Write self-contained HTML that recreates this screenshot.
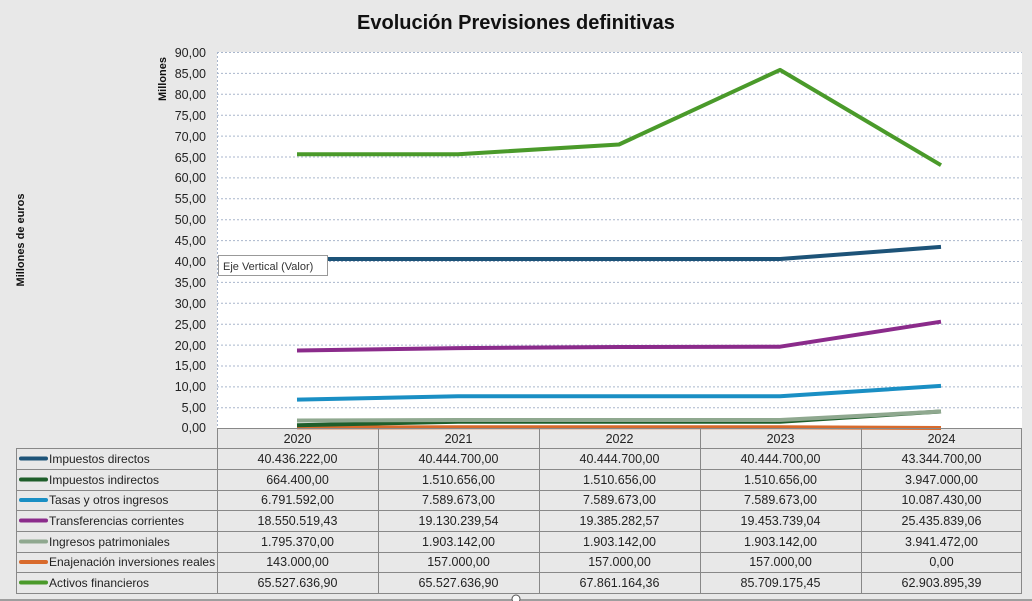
<!DOCTYPE html>
<html><head><meta charset="utf-8"><style>
body{margin:0;background:#e8e8e8;}
svg{display:block;font-family:"Liberation Sans",sans-serif;}
</style></head><body>
<svg width="1032" height="601" viewBox="0 0 1032 601" xmlns="http://www.w3.org/2000/svg">
<rect width="1032" height="601" fill="#e8e8e8"/>
<text x="516" y="29" text-anchor="middle" font-size="20" font-weight="bold" fill="#111">Evolución Previsiones definitivas</text>
<rect x="217" y="52" width="805" height="376" fill="#fff"/>
<g stroke="#a9b6cc" stroke-width="1" stroke-dasharray="2,2">
<line x1="217" x2="1022" y1="52.5" y2="52.5"/><line x1="217" x2="1022" y1="73.4" y2="73.4"/><line x1="217" x2="1022" y1="94.3" y2="94.3"/><line x1="217" x2="1022" y1="115.2" y2="115.2"/><line x1="217" x2="1022" y1="136.1" y2="136.1"/><line x1="217" x2="1022" y1="157" y2="157"/><line x1="217" x2="1022" y1="177.9" y2="177.9"/><line x1="217" x2="1022" y1="198.8" y2="198.8"/><line x1="217" x2="1022" y1="219.7" y2="219.7"/><line x1="217" x2="1022" y1="240.6" y2="240.6"/><line x1="217" x2="1022" y1="261.5" y2="261.5"/><line x1="217" x2="1022" y1="282.4" y2="282.4"/><line x1="217" x2="1022" y1="303.3" y2="303.3"/><line x1="217" x2="1022" y1="324.2" y2="324.2"/><line x1="217" x2="1022" y1="345.1" y2="345.1"/><line x1="217" x2="1022" y1="366" y2="366"/><line x1="217" x2="1022" y1="386.9" y2="386.9"/><line x1="217" x2="1022" y1="407.8" y2="407.8"/>
<line x1="217.5" x2="217.5" y1="52" y2="428"/>
</g>
<g font-size="12.5" fill="#222" text-anchor="end">
<text x="206" y="57">90,00</text><text x="206" y="78">85,00</text><text x="206" y="99">80,00</text><text x="206" y="120">75,00</text><text x="206" y="141">70,00</text><text x="206" y="162">65,00</text><text x="206" y="182">60,00</text><text x="206" y="203">55,00</text><text x="206" y="224">50,00</text><text x="206" y="245">45,00</text><text x="206" y="266">40,00</text><text x="206" y="287">35,00</text><text x="206" y="308">30,00</text><text x="206" y="329">25,00</text><text x="206" y="350">20,00</text><text x="206" y="370">15,00</text><text x="206" y="391">10,00</text><text x="206" y="412">5,00</text><text x="206" y="432">0,00</text>
</g>
<text transform="translate(166,79) rotate(-90)" text-anchor="middle" font-size="11" font-weight="bold" fill="#111">Millones</text>
<text transform="translate(24,240) rotate(-90)" text-anchor="middle" font-size="11" font-weight="bold" fill="#111">Millones de euros</text>
<g fill="none" stroke-width="4" stroke-linejoin="round">
<polyline stroke="#d86a2c" points="297,427.4 458,427.3 619,427.3 780,427.3 941,428"/>
<polyline stroke="#1e5e2a" points="297,425.2 458,421.7 619,421.7 780,421.7 941,411.5"/>
<polyline stroke="#8fa88f" points="297,420.5 458,420 619,420 780,420 941,411.5"/>
<polyline stroke="#1a8fc4" points="297,399.6 458,396.3 619,396.3 780,396.3 941,385.9"/>
<polyline stroke="#8b2b8b" points="297,350.5 458,348.1 619,347 780,346.7 941,321.7"/>
<polyline stroke="#1d5378" points="297,259 458,259 619,259 780,259 941,246.9"/>
<polyline stroke="#4a9a2a" points="297,154.2 458,154.2 619,144.5 780,69.9 941,165.2"/>
</g>
<rect x="218.5" y="255.5" width="109" height="20" fill="#fff" stroke="#999"/>
<text x="223" y="270" font-size="11" fill="#333">Eje Vertical (Valor)</text>
<g stroke="#888" stroke-width="1" fill="none">
<line x1="217" x2="1022" y1="428.5" y2="428.5"/>
<rect x="16.5" y="448.5" width="1005" height="145"/>
<line x1="217.5" x2="217.5" y1="428" y2="594"/><line x1="378.5" x2="378.5" y1="428" y2="594"/><line x1="539.5" x2="539.5" y1="428" y2="594"/><line x1="700.5" x2="700.5" y1="428" y2="594"/><line x1="861.5" x2="861.5" y1="428" y2="594"/><line x1="1021.5" x2="1021.5" y1="428" y2="594"/>
<line x1="16" x2="1022" y1="469.5" y2="469.5"/><line x1="16" x2="1022" y1="490.5" y2="490.5"/><line x1="16" x2="1022" y1="510.5" y2="510.5"/><line x1="16" x2="1022" y1="531.5" y2="531.5"/><line x1="16" x2="1022" y1="552.5" y2="552.5"/><line x1="16" x2="1022" y1="572.5" y2="572.5"/>
</g>
<line x1="0" x2="1032" y1="600" y2="600" stroke="#555" stroke-width="1"/>
<g stroke-width="4" stroke-linecap="round">
<line x1="21" x2="46" y1="458.5" y2="458.5" stroke="#1d5378"/>
<line x1="21" x2="46" y1="479.5" y2="479.5" stroke="#1e5e2a"/>
<line x1="21" x2="46" y1="500" y2="500" stroke="#1a8fc4"/>
<line x1="21" x2="46" y1="520.5" y2="520.5" stroke="#8b2b8b"/>
<line x1="21" x2="46" y1="541.5" y2="541.5" stroke="#8fa88f"/>
<line x1="21" x2="46" y1="562" y2="562" stroke="#d86a2c"/>
<line x1="21" x2="46" y1="582.5" y2="582.5" stroke="#4a9a2a"/>
</g>
<g font-size="12" fill="#222">
<text x="49" y="463">Impuestos directos</text>
<text x="49" y="484">Impuestos indirectos</text>
<text x="49" y="504">Tasas y otros ingresos</text>
<text x="49" y="525">Transferencias corrientes</text>
<text x="49" y="546">Ingresos patrimoniales</text>
<text x="49" y="566">Enajenación inversiones reales</text>
<text x="49" y="587">Activos financieros</text>
</g>
<g font-size="12.5" fill="#222" text-anchor="middle">
<text x="297.5" y="443">2020</text><text x="458.5" y="443">2021</text><text x="619.5" y="443">2022</text><text x="780.5" y="443">2023</text><text x="941.5" y="443">2024</text>
<text x="297.5" y="463">40.436.222,00</text><text x="458.5" y="463">40.444.700,00</text><text x="619.5" y="463">40.444.700,00</text><text x="780.5" y="463">40.444.700,00</text><text x="941.5" y="463">43.344.700,00</text>
<text x="297.5" y="484">664.400,00</text><text x="458.5" y="484">1.510.656,00</text><text x="619.5" y="484">1.510.656,00</text><text x="780.5" y="484">1.510.656,00</text><text x="941.5" y="484">3.947.000,00</text>
<text x="297.5" y="504">6.791.592,00</text><text x="458.5" y="504">7.589.673,00</text><text x="619.5" y="504">7.589.673,00</text><text x="780.5" y="504">7.589.673,00</text><text x="941.5" y="504">10.087.430,00</text>
<text x="297.5" y="525">18.550.519,43</text><text x="458.5" y="525">19.130.239,54</text><text x="619.5" y="525">19.385.282,57</text><text x="780.5" y="525">19.453.739,04</text><text x="941.5" y="525">25.435.839,06</text>
<text x="297.5" y="546">1.795.370,00</text><text x="458.5" y="546">1.903.142,00</text><text x="619.5" y="546">1.903.142,00</text><text x="780.5" y="546">1.903.142,00</text><text x="941.5" y="546">3.941.472,00</text>
<text x="297.5" y="566">143.000,00</text><text x="458.5" y="566">157.000,00</text><text x="619.5" y="566">157.000,00</text><text x="780.5" y="566">157.000,00</text><text x="941.5" y="566">0,00</text>
<text x="297.5" y="587">65.527.636,90</text><text x="458.5" y="587">65.527.636,90</text><text x="619.5" y="587">67.861.164,36</text><text x="780.5" y="587">85.709.175,45</text><text x="941.5" y="587">62.903.895,39</text>
</g>
<circle cx="516" cy="599" r="4" fill="#fff" stroke="#555"/>
</svg>
</body></html>
